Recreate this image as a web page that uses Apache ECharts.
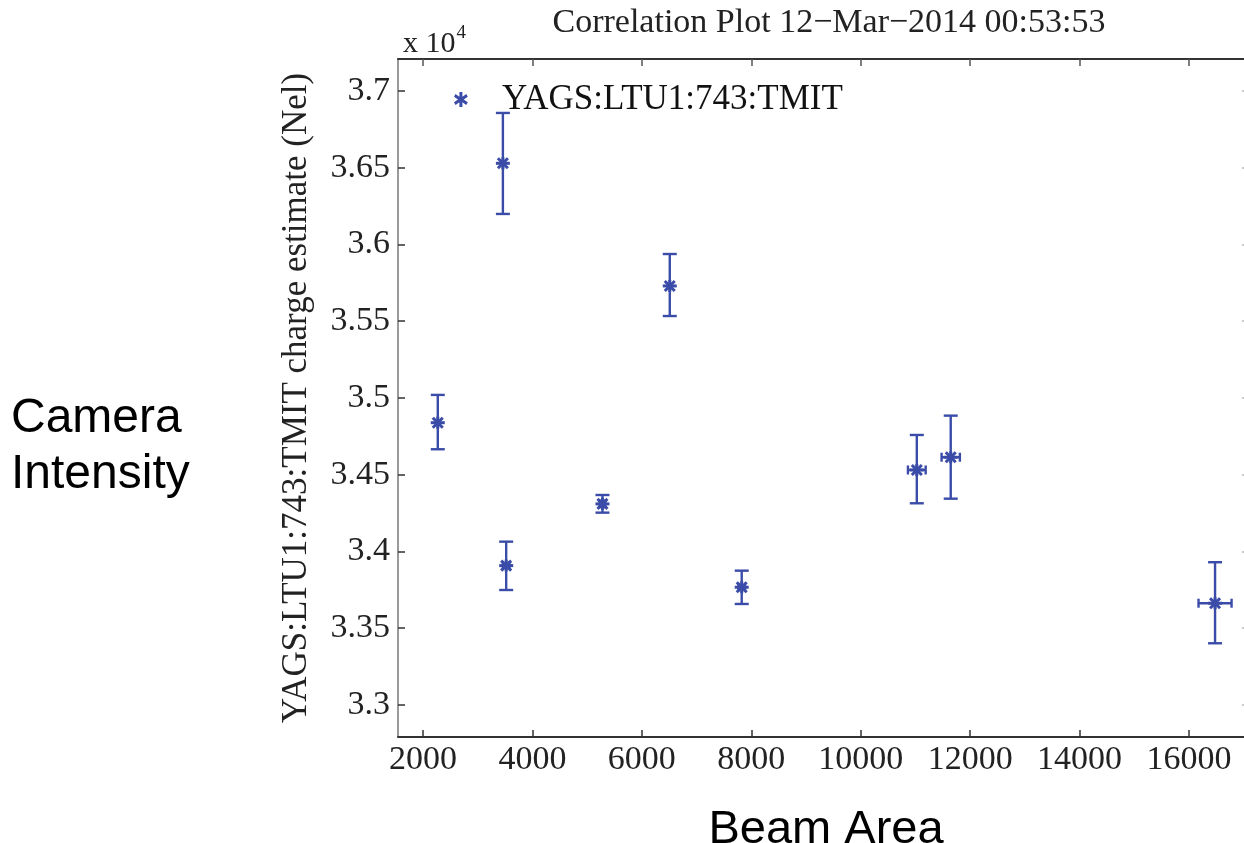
<!DOCTYPE html>
<html>
<head>
<meta charset="utf-8">
<script src="https://cdn.jsdelivr.net/npm/echarts@6/dist/echarts.min.js"></script>
<style>
html,body{margin:0;padding:0;background:#fff;}
#chart{width:1244px;height:843px;}
</style>
</head>
<body>
<div id="chart"></div>
<script>
// ---- data (y values in units of 1e4) ----
const seriesName = 'YAGS:LTU1:743:TMIT';
const xValues = [2270, 3460, 3520, 5280, 6510, 7825, 11025, 11645, 16476];
const yValues = [3.4839, 3.6529, 3.3908, 3.4310, 3.5730, 3.3767, 3.4531, 3.4614, 3.3663];
const yLow    = [3.4666, 3.6199, 3.3749, 3.4253, 3.5534, 3.3658, 3.4314, 3.4344, 3.3402];
const yHigh   = [3.5020, 3.6857, 3.4064, 3.4368, 3.5938, 3.3875, 3.4759, 3.4885, 3.3930];
const xErr    = [0, 0, 60, 50, 0, 60, 162, 167, 302];
const xTicks = [2000, 4000, 6000, 8000, 10000, 12000, 14000, 16000];
const yTicks = [3.3, 3.35, 3.4, 3.45, 3.5, 3.55, 3.6, 3.65, 3.7];
const yTickLabels = ['3.3', '3.35', '3.4', '3.45', '3.5', '3.55', '3.6', '3.65', '3.7'];
const titleText = 'Correlation Plot 12\u2212Mar\u22122014 00:53:53';
const yAxisTitle = 'YAGS:LTU1:743:TMIT charge estimate (Nel)';

const BLUE = '#3a4ca8';
const SERIF = 'Liberation Serif';
const X_MIN = 1543, X_MAX = 17005;
const Y_MIN = 3.27913, Y_MAX = 3.72085;

const data = xValues.map((x, i) => [x, yValues[i], yLow[i], yHigh[i], xErr[i]]);

const chart = echarts.init(document.getElementById('chart'), null, {renderer: 'canvas'});

function renderItem(params, api) {
  const x = api.value(0), y = api.value(1), lo = api.value(2), hi = api.value(3), xe = api.value(4);
  const p = api.coord([x, y]);
  const pl = api.coord([x, lo]);
  const ph = api.coord([x, hi]);
  const st = {stroke: BLUE, lineWidth: 2.4};
  const cap = 7;
  const ch = [
    {type: 'line', shape: {x1: p[0], y1: pl[1], x2: p[0], y2: ph[1]}, style: st},
    {type: 'line', shape: {x1: p[0] - cap, y1: pl[1], x2: p[0] + cap, y2: pl[1]}, style: st},
    {type: 'line', shape: {x1: p[0] - cap, y1: ph[1], x2: p[0] + cap, y2: ph[1]}, style: st}
  ];
  if (xe > 0) {
    const a = api.coord([x - xe, y]);
    const b = api.coord([x + xe, y]);
    ch.push({type: 'line', shape: {x1: a[0], y1: p[1], x2: b[0], y2: p[1]}, style: st});
    ch.push({type: 'line', shape: {x1: a[0], y1: p[1] - 4.5, x2: a[0], y2: p[1] + 4.5}, style: st});
    ch.push({type: 'line', shape: {x1: b[0], y1: p[1] - 4.5, x2: b[0], y2: p[1] + 4.5}, style: st});
  }
  const r = 7, d = 5;
  const ms = {stroke: BLUE, lineWidth: 3};
  ch.push({type: 'line', shape: {x1: p[0] - r, y1: p[1], x2: p[0] + r, y2: p[1]}, style: ms});
  ch.push({type: 'line', shape: {x1: p[0], y1: p[1] - r + 1, x2: p[0], y2: p[1] + r - 1}, style: ms});
  ch.push({type: 'line', shape: {x1: p[0] - d, y1: p[1] - d, x2: p[0] + d, y2: p[1] + d}, style: ms});
  ch.push({type: 'line', shape: {x1: p[0] - d, y1: p[1] + d, x2: p[0] + d, y2: p[1] - d}, style: ms});
  return {type: 'group', children: ch};
}

const asteriskIcon = 'path://M4,0 L6,0 L6,3.2 L8.6,1.4 L9.6,3.1 L6.9,5 L9.6,6.9 L8.6,8.6 L6,6.8 L6,10 L4,10 L4,6.8 L1.4,8.6 L0.4,6.9 L3.1,5 L0.4,3.1 L1.4,1.4 L4,3.2 Z';

const option = {
  backgroundColor: '#ffffff',
  animation: false,
  title: [
    {text: titleText, left: 824, top: 1, textAlign: 'center',
     textStyle: {fontFamily: SERIF, fontSize: 34, fontWeight: 'normal', color: '#222'}},
    {text: '{a|x 10}{b|4}', left: 398, top: 19,
     textStyle: {fontWeight: 'normal', rich: {
       a: {fontFamily: SERIF, fontSize: 30, fontWeight: 'normal', color: '#222', verticalAlign: 'bottom'},
       b: {fontFamily: SERIF, fontSize: 19, fontWeight: 'normal', color: '#222', verticalAlign: 'top', padding: [0, 0, 16, 1]}
     }}},
    {text: 'Camera\nIntensity', left: 6, top: 386,
     textStyle: {fontFamily: 'Liberation Sans', fontSize: 48, fontWeight: 'normal', color: '#000', lineHeight: 56}},
    {text: 'Beam Area', left: 821, top: 802, textAlign: 'center',
     textStyle: {fontFamily: 'Liberation Sans', fontSize: 47, fontWeight: 'normal', color: '#000'}}
  ],
  legend: {
    data: [{name: seriesName, icon: asteriskIcon}],
    left: 449, top: 77,
    itemWidth: 16, itemHeight: 15,
    textStyle: {fontFamily: SERIF, fontSize: 35, color: '#111', padding: [0, 0, 0, 28]},
    itemStyle: {color: BLUE}
  },
  grid: {left: 398, right: 0, top: 59, bottom: 106, containLabel: false},
  xAxis: [
    {type: 'value', position: 'bottom', min: X_MIN, max: X_MAX,
     axisLine: {show: true, onZero: false, lineStyle: {color: '#333', width: 2}},
     axisTick: {show: true, inside: true, length: 7, customValues: xTicks, lineStyle: {color: '#333', width: 1.5}},
     axisLabel: {show: true, customValues: xTicks, margin: 6, fontFamily: SERIF, fontSize: 34, color: '#222',
       formatter: function (v) { return String(v); }},
     splitLine: {show: false}},
    {type: 'value', position: 'top', min: X_MIN, max: X_MAX,
     axisLine: {show: true, onZero: false, lineStyle: {color: '#333', width: 2}},
     axisTick: {show: true, inside: true, length: 7, customValues: xTicks, lineStyle: {color: '#555', width: 1.5}},
     axisLabel: {show: false},
     splitLine: {show: false}}
  ],
  yAxis: [
    {type: 'value', position: 'left', min: Y_MIN, max: Y_MAX,
     axisLine: {show: true, onZero: false, lineStyle: {color: '#777', width: 1.5}},
     axisTick: {show: true, inside: true, length: 7, customValues: yTicks, lineStyle: {color: '#333', width: 1.5}},
     axisLabel: {show: true, customValues: yTicks, margin: 8, fontFamily: SERIF, fontSize: 34, color: '#222',
       formatter: function (v) { const i = yTicks.findIndex(t => Math.abs(t - v) < 1e-6); return i >= 0 ? yTickLabels[i] : ''; }},
     name: yAxisTitle, nameLocation: 'middle', nameGap: 84, nameRotate: 90,
     nameTextStyle: {fontFamily: SERIF, fontSize: 35, color: '#222'},
     splitLine: {show: false}},
    {type: 'value', position: 'right', min: Y_MIN, max: Y_MAX,
     axisLine: {show: false},
     axisTick: {show: true, inside: true, length: 2, customValues: yTicks, lineStyle: {color: '#bbb', width: 1.5}},
     axisLabel: {show: false},
     splitLine: {show: false}}
  ],
  series: [{
    name: seriesName,
    type: 'custom',
    xAxisIndex: 0, yAxisIndex: 0,
    renderItem: renderItem,
    itemStyle: {color: BLUE},
    encode: {x: 0, y: 1},
    data: data,
    clip: false
  }]
};
chart.setOption(option);
</script>
</body>
</html>
